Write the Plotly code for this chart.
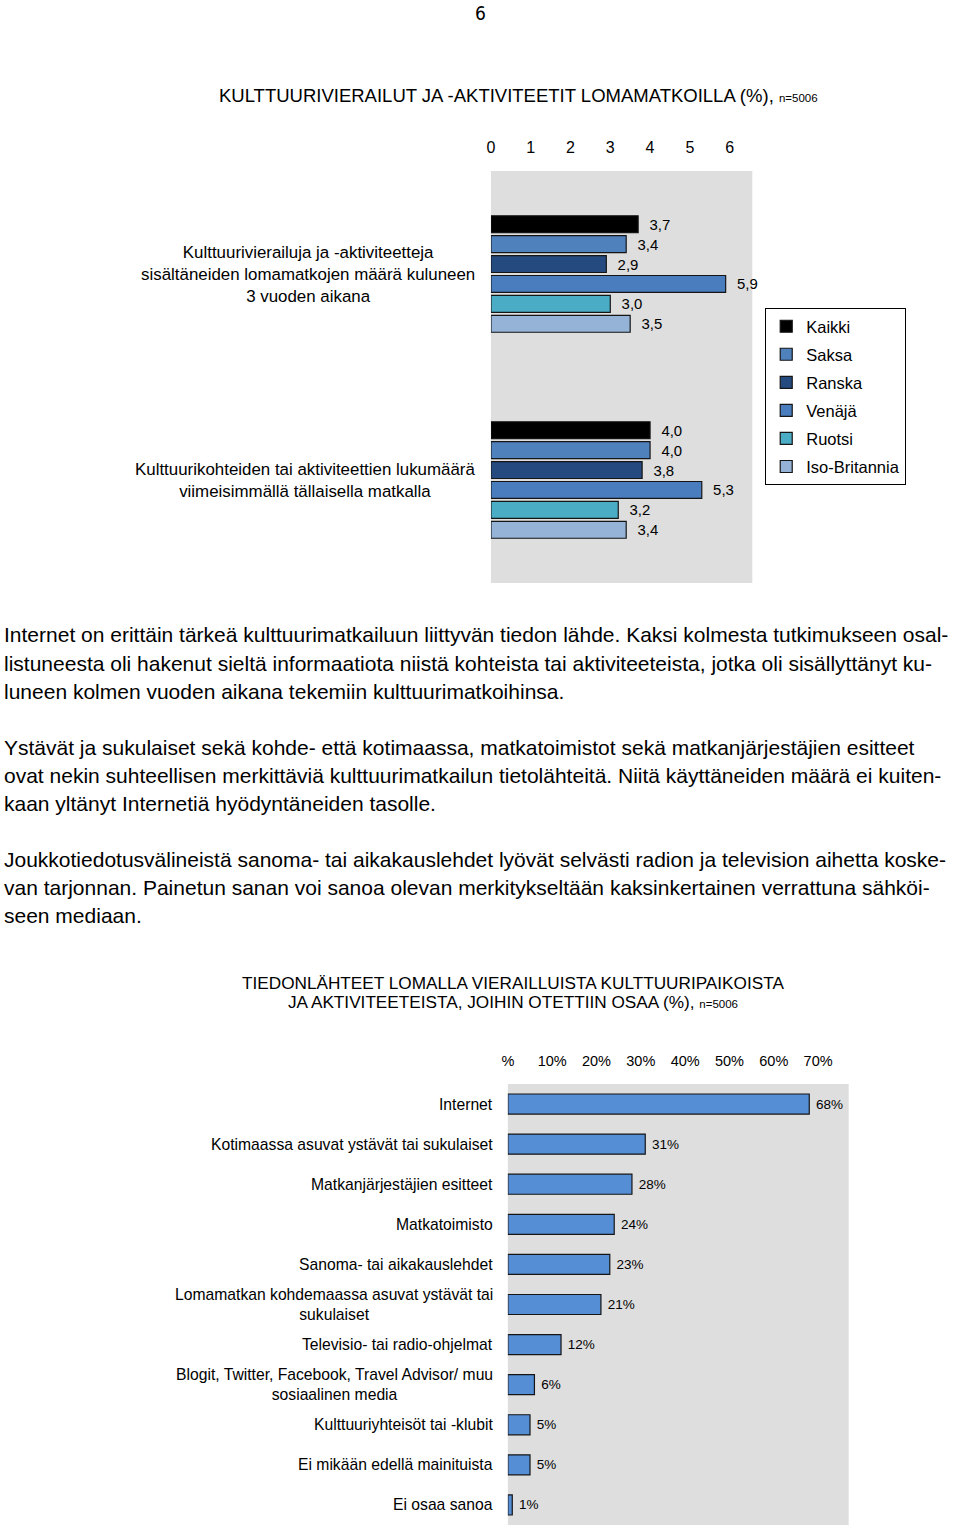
import plotly.graph_objects as go

W, H = 960, 1525
FONT = "Liberation Sans, Arial, sans-serif"

# ---------------- data: top chart ----------------
top_categories = [
    "Kulttuurivierailuja ja -aktiviteetteja<br>sisältäneiden lomamatkojen määrä kuluneen<br>3 vuoden aikana",
    "Kulttuurikohteiden tai aktiviteettien lukumäärä<br>viimeisimmällä tällaisella matkalla",
]
series_names = ["Kaikki", "Saksa", "Ranska", "Venäjä", "Ruotsi", "Iso-Britannia"]
kaikki = [3.7, 4.0]
saksa = [3.4, 4.0]
ranska = [2.9, 3.8]
venaja = [5.9, 5.3]
ruotsi = [3.0, 3.2]
iso_britannia = [3.5, 3.4]
top_ticks = [0, 1, 2, 3, 4, 5, 6]

# ---------------- data: bottom chart ----------------
sources = [
    "Internet",
    "Kotimaassa asuvat ystävät tai sukulaiset",
    "Matkanjärjestäjien esitteet",
    "Matkatoimisto",
    "Sanoma- tai aikakauslehdet",
    "Lomamatkan kohdemaassa asuvat ystävät tai<br>sukulaiset",
    "Televisio- tai radio-ohjelmat",
    "Blogit, Twitter, Facebook, Travel Advisor/ muu<br>sosiaalinen media",
    "Kulttuuriyhteisöt tai -klubit",
    "Ei mikään edellä mainituista",
    "Ei osaa sanoa",
]
shares = [68, 31, 28, 24, 23, 21, 12, 6, 5, 5, 1]
bottom_tickvals = [0, 10, 20, 30, 40, 50, 60, 70]
bottom_ticktext = ["%", "10%", "20%", "30%", "40%", "50%", "60%", "70%"]

# ---------------- text ----------------
page_number = "6"
top_title = "KULTTUURIVIERAILUT JA -AKTIVITEETIT LOMAMATKOILLA (%), "
bottom_title_1 = "TIEDONLÄHTEET LOMALLA VIERAILLUISTA KULTTUURIPAIKOISTA"
bottom_title_2 = "JA AKTIVITEETEISTA, JOIHIN OTETTIIN OSAA (%), "
n_text = "n=5006"
paragraph_lines = [
    "Internet on erittäin tärkeä kulttuurimatkailuun liittyvän tiedon lähde. Kaksi kolmesta tutkimukseen osal-",
    "listuneesta oli hakenut sieltä informaatiota niistä kohteista tai aktiviteeteista, jotka oli sisällyttänyt ku-",
    "luneen kolmen vuoden aikana tekemiin kulttuurimatkoihinsa.",
    "Ystävät ja sukulaiset sekä kohde- että kotimaassa, matkatoimistot sekä matkanjärjestäjien esitteet",
    "ovat nekin suhteellisen merkittäviä kulttuurimatkailun tietolähteitä. Niitä käyttäneiden määrä ei kuiten-",
    "kaan yltänyt Internetiä hyödyntäneiden tasolle.",
    "Joukkotiedotusvälineistä sanoma- tai aikakauslehdet lyövät selvästi radion ja television aihetta koske-",
    "van tarjonnan. Painetun sanan voi sanoa olevan merkitykseltään kaksinkertainen verrattuna sähköi-",
    "seen mediaan.",
]
paragraph_y = [635, 663, 691, 747, 775, 803, 859, 887, 915]

# ---------------- styles ----------------
series_values = [kaikki, saksa, ranska, venaja, ruotsi, iso_britannia]
series_colors = ["#000000", "#4F81BD", "#244A7F", "#4A7DBE", "#4BACC6", "#95B3D7"]
bottom_color = "#558ED5"
outline = "#151515"
grey_bg = "#DEDEDE"


def px(x):
    return x / W


def py(y):
    return 1 - y / H


def comma(v):
    return f"{v:.1f}".replace(".", ",")


fig = go.Figure()

for name, vals, col in zip(series_names, series_values, series_colors):
    fig.add_trace(go.Bar(
        name=name, x=vals, y=top_categories, orientation="h",
        xaxis="x", yaxis="y",
        marker=dict(color=col, line=dict(color=outline, width=1.2)),
        text=["\u00a0\u00a0" + comma(v) for v in vals],
        textposition="outside", cliponaxis=False,
        textfont=dict(family=FONT, size=15, color="#000000"),
        legendgroup=name, showlegend=True, hoverinfo="x+name",
    ))

fig.add_trace(go.Bar(
    x=shares, y=sources, orientation="h", xaxis="x2", yaxis="y2",
    width=0.5, offset=-0.25,
    marker=dict(color=bottom_color, line=dict(color=outline, width=1.2)),
    text=["\u00a0" + f"{v}%" for v in shares],
    textposition="outside", cliponaxis=False,
    textfont=dict(family=FONT, size=13.5, color="#000000"),
    showlegend=False, hoverinfo="x",
))

annotations = []
# category labels, top chart
for cat in top_categories:
    annotations.append(dict(
        text=cat, x=px(474), xref="paper", y=cat, yref="y",
        xanchor="right", yanchor="middle", align="center", showarrow=False,
        font=dict(family=FONT, size=16.9, color="#000000"),
    ))
# category labels, bottom chart
for cat in sources:
    annotations.append(dict(
        text=cat, x=px(492), xref="paper", y=cat, yref="y2",
        xanchor="right", yanchor="middle", align="center", showarrow=False,
        font=dict(family=FONT, size=15.7, color="#000000"),
    ))
# titles
annotations.append(dict(
    text=page_number, x=px(477), y=py(13), xref="paper", yref="paper",
    xanchor="center", yanchor="middle", showarrow=False,
    font=dict(family="DejaVu Sans Condensed, DejaVu Sans, sans-serif", size=19, color="#000000"),
))
annotations.append(dict(
    text=top_title + f"<span style='font-size:11.5px'>{n_text}</span>",
    x=px(516), y=py(96), xref="paper", yref="paper",
    xanchor="center", yanchor="middle", showarrow=False,
    font=dict(family=FONT, size=18.5, color="#000000"),
))
annotations.append(dict(
    text=bottom_title_1, x=px(510), y=py(983), xref="paper", yref="paper",
    xanchor="center", yanchor="middle", showarrow=False,
    font=dict(family=FONT, size=17.2, color="#000000"),
))
annotations.append(dict(
    text=bottom_title_2 + f"<span style='font-size:11.5px'>{n_text}</span>",
    x=px(510), y=py(1002), xref="paper", yref="paper",
    xanchor="center", yanchor="middle", showarrow=False,
    font=dict(family=FONT, size=17.2, color="#000000"),
))
# paragraphs
for line, yy in zip(paragraph_lines, paragraph_y):
    annotations.append(dict(
        text=line, x=px(-4), y=py(yy), xref="paper", yref="paper",
        xanchor="left", yanchor="middle", showarrow=False,
        font=dict(family=FONT, size=21, color="#000000"),
    ))

fig.update_layout(
    width=W, height=H, margin=dict(l=0, r=0, t=0, b=0),
    paper_bgcolor="#FFFFFF", plot_bgcolor=grey_bg,
    barmode="group", bargap=0.42, bargroupgap=0.15,
    font=dict(family=FONT, color="#000000"),
    xaxis=dict(
        domain=[px(488), px(751)], range=[0, 6.57], anchor="y", side="top",
        tickvals=top_ticks, showgrid=False, zeroline=False, showline=False,
        ticks="", ticklabelstandoff=14,
        tickfont=dict(family=FONT, size=16, color="#000000"),
    ),
    yaxis=dict(
        domain=[py(583), py(171)], type="category", autorange="reversed",
        anchor="x", showticklabels=False, showgrid=False, zeroline=False, ticks="",
    ),
    xaxis2=dict(
        domain=[px(505), px(848)], range=[0, 76.9], anchor="y2", side="top",
        tickvals=bottom_tickvals, ticktext=bottom_ticktext,
        showgrid=False, zeroline=False, showline=False,
        ticks="", ticklabelstandoff=14,
        tickfont=dict(family=FONT, size=14.5, color="#000000"),
    ),
    yaxis2=dict(
        domain=[0, py(1084)], type="category", autorange="reversed",
        anchor="x2", showticklabels=False, showgrid=False, zeroline=False, ticks="",
    ),
    legend=dict(
        x=px(764), y=py(308), xanchor="left", yanchor="top",
        bgcolor="#FFFFFF", bordercolor="#000000", borderwidth=1,
        font=dict(family=FONT, size=16.5, color="#000000"),
        traceorder="grouped", tracegroupgap=3.6, itemwidth=30,
    ),
    annotations=annotations,
)

fig.write_html(
    "out.html",
    config={"displayModeBar": False},
    post_script="document.body.style.margin='0px';",
)
